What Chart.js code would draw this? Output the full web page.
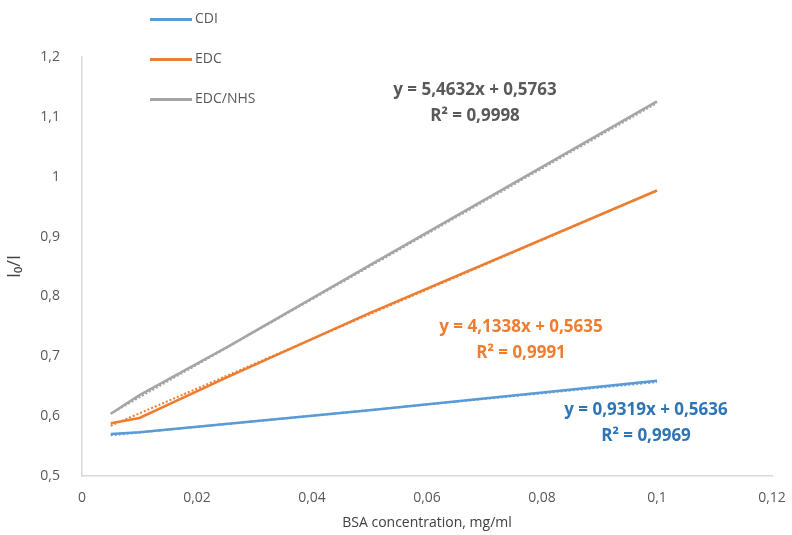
<!DOCTYPE html>
<html lang="en">
<head>
  <meta charset="UTF-8">
  <title>BSA concentration</title>
  <script src="https://cdn.jsdelivr.net/npm/chart.js"></script>
  <style>
    body {
      margin: 0;
      padding: 0;
      background: #ffffff;
      font-family: 'Open Sans', sans-serif;
    }
    .wrap {
      position: relative;
      width: 792px;
      height: 535px;
    }
    .legend {
      position: absolute;
      left: 150px;
      top: 8px;
      font-size: 14px;
      color: #595959;
    }
    .legend div {
      height: 40px;
      line-height: 20px;
    }
    .legend span.sw {
      display: inline-block;
      width: 42px;
      height: 3px;
      vertical-align: middle;
      margin-right: 3px;
    }
    .note {
      position: absolute;
      font-weight: bold;
      font-size: 17px;
      text-align: center;
      line-height: 26px;
      transform: translateX(-50%);
      white-space: nowrap;
    }
  </style>
</head>
<body>
<div class="wrap">
  <canvas id="chart" width="792" height="535"></canvas>
  <div class="legend">
    <div><span class="sw" style="background:#5b9bd5"></span>CDI</div>
    <div><span class="sw" style="background:#ed7d31"></span>EDC</div>
    <div><span class="sw" style="background:#a5a5a5"></span>EDC/NHS</div>
  </div>
  <div class="note" style="left:475px; top:76px; color:#595959">y = 5,4632x + 0,5763<br>R² = 0,9998</div>
  <div class="note" style="left:521px; top:313px; color:#ed7d31">y = 4,1338x + 0,5635<br>R² = 0,9991</div>
  <div class="note" style="left:646px; top:396px; color:#2e75b6">y = 0,9319x + 0,5636<br>R² = 0,9969</div>
</div>
<script>
  // concentrations, mg/ml
  const conc = [0.005, 0.01, 0.025, 0.05, 0.1];
  const cdi = [0.570, 0.573, 0.587, 0.610, 0.659];
  const edc = [0.588, 0.597, 0.664, 0.772, 0.977];
  const edcNhs = [0.604, 0.635, 0.714, 0.852, 1.126];

  // linear trendlines (end points from the fitted equations)
  const trendX = [0.005, 0.1];
  const cdiTrend = [0.568, 0.657];
  const edcTrend = [0.584, 0.977];
  const edcNhsTrend = [0.604, 1.123];

  const blue = '#5b9bd5', orange = '#ed7d31', gray = '#a5a5a5';

  function pts(xs, ys) {
    return xs.map((x, i) => ({ x: x, y: ys[i] }));
  }

  function line(data, color) {
    return { data: data, borderColor: color, borderWidth: 2.5, pointRadius: 0, showLine: true, fill: false, tension: 0 };
  }

  function trend(data, color) {
    return { data: data, borderColor: color, borderWidth: 2, borderDash: [2, 2], pointRadius: 0, showLine: true, fill: false };
  }

  const fmt = v => String(+v.toFixed(2)).replace('.', ',');

  new Chart(document.getElementById('chart'), {
    type: 'scatter',
    data: {
      datasets: [
        trend(pts(trendX, cdiTrend), blue),
        trend(pts(trendX, edcTrend), orange),
        trend(pts(trendX, edcNhsTrend), gray),
        line(pts(conc, cdi), blue),
        line(pts(conc, edc), orange),
        line(pts(conc, edcNhs), gray)
      ]
    },
    options: {
      responsive: false,
      animation: false,
      layout: { padding: { top: 57, right: 20, left: 0, bottom: 0 } },
      plugins: {
        legend: { display: false },
        tooltip: { enabled: false }
      },
      scales: {
        x: {
          type: 'linear',
          min: 0,
          max: 0.12,
          grid: { display: false },
          border: { display: true, color: '#d9d9d9', width: 1.5 },
          ticks: { stepSize: 0.02, color: '#595959', font: { size: 14, family: 'Open Sans' }, padding: 6, callback: fmt },
          title: { display: true, text: 'BSA concentration, mg/ml', color: '#404040', font: { size: 14, family: 'Open Sans' }, padding: { top: 4 } },
          afterFit: s => { s.height = 59; }
        },
        y: {
          min: 0.5,
          max: 1.2,
          grid: { display: false },
          border: { display: true, color: '#d9d9d9', width: 1.5 },
          ticks: { stepSize: 0.1, color: '#595959', font: { size: 14, family: 'Open Sans' }, padding: 14, callback: fmt },
          title: { display: true, text: 'I₀/I', color: '#404040', font: { size: 18, family: 'Open Sans' }, padding: { bottom: 2 } },
          afterFit: s => { s.width = 82; }
        }
      }
    }
  });
</script>
</body>
</html>
